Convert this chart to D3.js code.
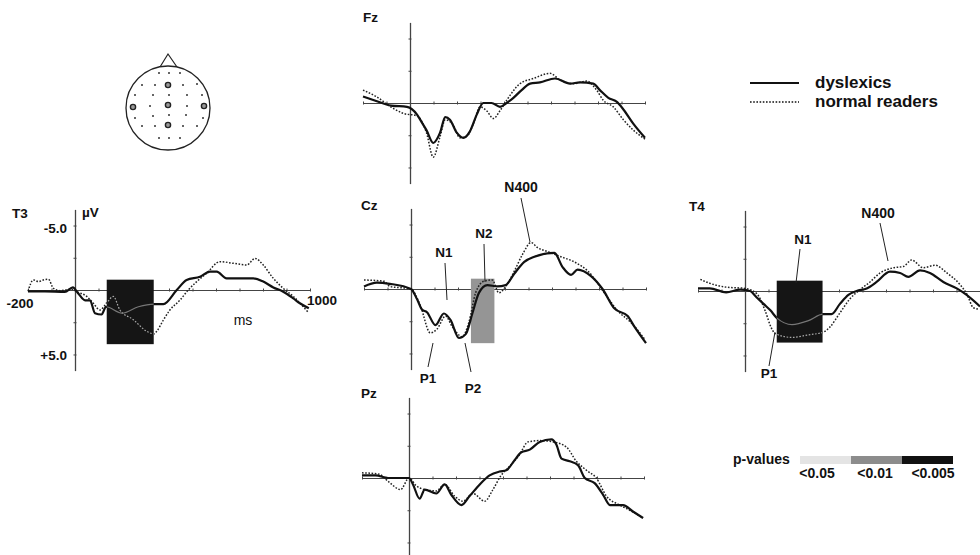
<!DOCTYPE html>
<html>
<head>
<meta charset="utf-8">
<script src="https://cdn.jsdelivr.net/npm/d3@7/dist/d3.min.js"></script>
<style>
  html, body { margin: 0; padding: 0; background: #fff; }
  svg { display: block; font-family: "Liberation Sans", Arial, sans-serif; }
  .lbl { fill: #111; }
</style>
</head>
<body>
<svg id="chart" width="980" height="555"></svg>
<script>
// ERP waveforms, [time in ms, amplitude in µV]; negative is plotted upward.
const t3Dyslexics = [[-200,0.1],[-128,0.1],[-43,0.15],[-9,-0.2],[13,0.25],[43,0.8],[64,0.8],[85,1.8],[113,1.9],[132,1.3],[200,1.8],[270,1.3],[336,1.1],[376,1.1],[433,0],[475,-0.78],[532,-1.03],[574,-1.42],[603,-1.42],[645,-0.9],[674,-0.9],[759,-0.9],[801,-0.65],[844,-0.2],[886,0.13],[929,0.65],[957,1.03],[995,1.42]];
const t3Normal = [[-200,0.1],[-177,-0.78],[-156,-0.65],[-135,-0.78],[-113,-0.83],[-92,-0.13],[-64,0.05],[-14,-0.05],[7,0.13],[50,0.5],[78,1.03],[106,1.55],[135,1.0],[163,0.5],[191,1.55],[248,2.3],[305,3.2],[336,3.4],[348,3.2],[376,2.33],[404,1.55],[447,0.78],[482,0],[518,-0.65],[560,-1.3],[617,-2.2],[674,-2.07],[731,-1.94],[766,-2.45],[801,-1.94],[844,-0.9],[886,-0.13],[929,0.5],[990,1.68]];

const fzDyslexics = [[-200,-0.5],[-150,-0.2],[-80,0.2],[-13,0.3],[30,0.9],[50,1.5],[70,2.1],[99,3.1],[128,2.3],[150,1.1],[170,1.3],[199,2.3],[227,2.7],[255,2.2],[284,0.9],[312,0],[347,0],[383,0.3],[411,0],[440,-0.4],[475,-1.0],[511,-1.5],[553,-1.6],[617,-1.9],[681,-1.5],[723,-1.6],[780,-1.5],[808,-1.0],[844,-0.4],[879,-0.1],[908,0.5],[950,1.6],[1000,2.7]];
const fzNormal = [[-200,-1.0],[-144,-0.5],[-73,0.4],[-30,0.8],[30,1.0],[70,2.3],[99,4.2],[128,2.6],[150,1.3],[180,1.6],[213,2.7],[241,2.6],[270,1.6],[298,0.3],[326,0.6],[355,1.2],[383,0.6],[411,-0.2],[468,-1.5],[525,-1.9],[596,-2.3],[638,-1.8],[695,-1.5],[752,-1.7],[794,-1.0],[823,-0.2],[865,0.3],[908,1.3],[950,2.1],[1000,2.8]];

const czDyslexics = [[-200,-0.2],[-145,-0.5],[-90,-0.4],[0,0],[26,0.8],[47,1.6],[68,1.8],[104,2.8],[140,1.9],[168,2.4],[204,3.8],[233,3.5],[261,1.9],[289,0.3],[325,-0.3],[367,-0.2],[403,-0.3],[440,-1.2],[482,-2.1],[525,-2.5],[610,-2.8],[645,-1.7],[681,-1.1],[709,-1.5],[766,-1.0],[815,0],[865,1.5],[922,2.1],[950,2.9],[1000,4.2]];
const czNormal = [[-200,-0.7],[-115,-0.6],[-90,-0.2],[0,0],[40,1.3],[82,3.4],[111,3.1],[147,2.1],[175,2.9],[218,3.7],[246,2.6],[275,0.3],[310,-0.6],[346,-0.7],[374,0.3],[403,-0.2],[440,-1.4],[475,-2.7],[511,-3.6],[539,-3.2],[582,-2.9],[638,-2.5],[695,-2.1],[752,-1.4],[823,0.3],[880,1.7],[936,2.6],[995,3.9]];

const t4Dyslexics = [[-200,-0.2],[-150,-0.2],[-80,0.1],[-21,-0.1],[21,0],[50,0.5],[79,1.0],[108,1.5],[136,2.1],[200,2.6],[270,2.3],[332,1.8],[368,1.8],[404,1.0],[440,0.3],[475,0],[518,-0.2],[560,-0.7],[617,-1.5],[660,-1.4],[695,-1.1],[745,-1.6],[787,-1.4],[844,-0.7],[901,-0.2],[943,0.3],[1000,1.2]];
const t4Normal = [[-190,-0.9],[-150,-0.6],[-80,-0.3],[0,-0.2],[50,0.2],[85,1.5],[113,2.9],[128,3.3],[200,3.6],[270,3.4],[332,3.2],[361,2.8],[404,1.7],[447,0.6],[489,-0.1],[532,-0.7],[575,-1.4],[631,-1.8],[674,-1.9],[709,-2.4],[759,-1.8],[809,-2.0],[859,-1.4],[915,-0.5],[943,0.2],[972,1.3],[993,1.4]];

const pzDyslexics = [[-200,-0.2],[-143,-0.2],[-86,0],[0,0],[17,0.5],[45,1.6],[67,0.9],[116,1.2],[152,0.5],[180,1.3],[223,2.1],[258,1.4],[301,0.5],[343,-0.2],[385,-0.5],[414,-0.6],[450,-1.4],[478,-2.0],[514,-2.2],[556,-2.8],[606,-3.0],[627,-2.6],[649,-1.5],[684,-1.3],[719,-1.0],[748,0],[790,0.4],[826,1.3],[855,2.1],[911,2.1],[953,2.6],[996,3.1]];
const pzNormal = [[-200,-0.4],[-128,-0.3],[-86,0.3],[-36,0.9],[0,0],[31,0.6],[67,0.9],[116,1.0],[152,0.5],[194,1.4],[230,1.8],[272,1.2],[322,1.8],[357,0.9],[392,-0.2],[428,-0.9],[470,-1.8],[506,-2.8],[556,-2.9],[613,-2.8],[670,-2.4],[712,-1.3],[755,-0.6],[797,0],[840,1.4],[897,2.1],[950,2.6],[996,3.1]];

// Significance windows: [start ms, end ms, top µV, bottom µV]
const t3Window = [135, 335, -0.8, 4.2];
const czWindow = [255, 355, -0.8, 4.2];
const t4Window = [135, 330, -0.8, 4.0];

const xTicks = d3.range(-200, 1001, 100);
const yTicks = [-5, -2.5, 0, 2.5, 5];
const pLabels = ["<0.05", "<0.01", "<0.005"];
const pColors = ["#e4e4e4", "#8c8c8c", "#111111"];
const legendNames = ["dyslexics", "normal readers"];

const svg = d3.select("#chart");

function panel(name, ox, oy, dys, nor, win, winColor) {
  const x = d3.scaleLinear().domain([-200, 1000]).range([ox - 47, ox + 235]);
  const y = d3.scaleLinear().domain([-6.25, 6.25]).range([oy - 80.6, oy + 80.6]);
  const g = svg.append("g");
  const line = d3.line().x(d => x(d[0])).y(d => y(d[1])).curve(d3.curveMonotoneX);

  // axes
  const xa = g.append("g").attr("transform", `translate(0,${y(0) - 1.5})`)
    .call(d3.axisBottom(x).tickValues(xTicks).tickSize(3).tickSizeOuter(0).tickFormat(""));
  xa.select(".domain").attr("transform", "translate(0,1.5)").attr("stroke", "#444");
  xa.selectAll(".tick line").attr("stroke", "#444");
  const ya = g.append("g").attr("transform", `translate(${x(0) + 1.5},0)`)
    .call(d3.axisLeft(y).tickValues(yTicks).tickSize(3).tickSizeOuter(0).tickFormat(""));
  ya.select(".domain").attr("transform", "translate(-1.5,0)").attr("stroke", "#444").attr("stroke-width", 1.3);
  ya.selectAll(".tick line").attr("stroke", "#444");

  const drawCurves = (sel, colD, colN, wD, wN) => {
    sel.append("path").datum(nor).attr("d", line).attr("fill", "none")
      .attr("stroke", colN).attr("stroke-width", wN).attr("stroke-dasharray", "1.6,1.6");
    sel.append("path").datum(dys).attr("d", line).attr("fill", "none")
      .attr("stroke", colD).attr("stroke-width", wD).attr("stroke-linejoin", "round");
  };

  if (win && winColor === "dark") {
    drawCurves(g, "#111", "#222", 2.2, 1.5);
    g.append("rect").attr("x", x(win[0])).attr("y", y(win[2]))
      .attr("width", x(win[1]) - x(win[0])).attr("height", y(win[3]) - y(win[2]))
      .attr("fill", "#151515");
    const cid = "clip-" + name;
    svg.append("clipPath").attr("id", cid).append("rect")
      .attr("x", x(win[0])).attr("y", y(win[2]))
      .attr("width", x(win[1]) - x(win[0])).attr("height", y(win[3]) - y(win[2]));
    drawCurves(g.append("g").attr("clip-path", `url(#${cid})`), "#777", "#aaa", 1.2, 1.2);
  } else if (win) {
    g.append("rect").attr("x", x(win[0])).attr("y", y(win[2]))
      .attr("width", x(win[1]) - x(win[0])).attr("height", y(win[3]) - y(win[2]))
      .attr("fill", "#959595");
    drawCurves(g, "#111", "#222", 2.2, 1.5);
  } else {
    drawCurves(g, "#111", "#222", 2.2, 1.5);
  }
  return { x, y, g };
}

function text(t, x, y, size, anchor, weight) {
  svg.append("text").attr("class", "lbl").attr("x", x).attr("y", y)
    .attr("font-size", size).attr("text-anchor", anchor || "start")
    .style("font-weight", weight || "bold").text(t);
}
function pointer(x1, y1, x2, y2) {
  svg.append("line").attr("x1", x1).attr("y1", y1).attr("x2", x2).attr("y2", y2)
    .attr("stroke", "#222").attr("stroke-width", 1);
}

// electrode panels
const t3 = panel("T3", 75, 290, t3Dyslexics, t3Normal, t3Window, "dark");
const fz = panel("Fz", 410, 103, fzDyslexics, fzNormal, null);
const cz = panel("Cz", 411, 289, czDyslexics, czNormal, czWindow, "grey");
const t4 = panel("T4", 745, 291, t4Dyslexics, t4Normal, t4Window, "dark");
const pz = panel("Pz", 409, 478, pzDyslexics, pzNormal, null);

// panel titles
text("T3", 12, 218, 13.5);
text("Fz", 363, 22, 13.5);
text("Cz", 361, 210, 13.5);
text("T4", 689, 211, 13.5);
text("Pz", 361, 398, 13.5);

// T3 axis annotation
text("\u00b5V", 82, 217, 13.5);
text("-5.0", 67, 233, 13.5, "end");
text("+5.0", 67, 360, 13.5, "end");
text("-200", 20, 308, 13.5, "middle");
text("1000", 322, 305, 13.5, "middle");
text("ms", 243, 325, 14, "middle", "normal");

// component labels, Cz
text("N1", 444, 257, 13.5, "middle");
pointer(445, 263, 447, 300);
text("N2", 484, 238, 13.5, "middle");
pointer(484, 244, 485, 282);
text("N400", 521, 192, 14, "middle");
pointer(521, 198, 530, 242);
text("P1", 428, 383, 13.5, "middle");
pointer(428, 367, 433, 343);
text("P2", 473, 393, 13.5, "middle");
pointer(471, 372, 465, 343);

// component labels, T4
text("N1", 803, 244, 13.5, "middle");
pointer(800, 249, 796, 283);
text("N400", 878, 218, 14, "middle");
pointer(880, 223, 888, 261);
text("P1", 769, 378, 13.5, "middle");
pointer(769, 366, 775, 332);

// legend
const legY = [83, 102];
legendNames.forEach((n, i) => {
  svg.append("line").attr("x1", 750).attr("x2", 799).attr("y1", legY[i]).attr("y2", legY[i])
    .attr("stroke", "#111").attr("stroke-width", i === 0 ? 2.2 : 1.5)
    .attr("stroke-dasharray", i === 0 ? null : "1.6,1.6");
  text(n, 815, legY[i] + 5, 17);
});

// p-value key
text("p-values", 733, 464, 14);
pLabels.forEach((p, i) => {
  svg.append("rect").attr("x", 800 + i * 51).attr("y", 456).attr("width", 51).attr("height", 8)
    .attr("fill", pColors[i]);
  text(p, 817 + i * 58, 478, 14, "middle");
});

// electrode montage (head seen from above)
const head = svg.append("g");
head.append("path").attr("d", "M160,67 L168,54 L177,67").attr("fill", "#fff").attr("stroke", "#222").attr("stroke-width", 1.2);
head.append("circle").attr("cx", 168).attr("cy", 108).attr("r", 42).attr("fill", "#fff").attr("stroke", "#222").attr("stroke-width", 1.3);
const smallSites = [[159,73],[169,73],[180,73],[142,85],[155,85],[183,85],[197,84],[135,95],[153,95],[169,95],[187,95],[202,95],[150,106],[187,106],[153,116],[169,115],[186,115],[135,118],[203,118],[142,126],[155,126],[183,126],[197,126],[159,138],[169,138],[180,138]];
const bigSites = [[168,85],[168,105],[168,125],[133,107],[204,106]];
head.selectAll(".s").data(smallSites).join("circle").attr("cx", d => d[0]).attr("cy", d => d[1]).attr("r", 1).attr("fill", "#333");
head.selectAll(".b").data(bigSites).join("circle").attr("cx", d => d[0]).attr("cy", d => d[1]).attr("r", 2.6)
  .attr("fill", "#999").attr("stroke", "#222").attr("stroke-width", 1.4);
</script>
</body>
</html>
